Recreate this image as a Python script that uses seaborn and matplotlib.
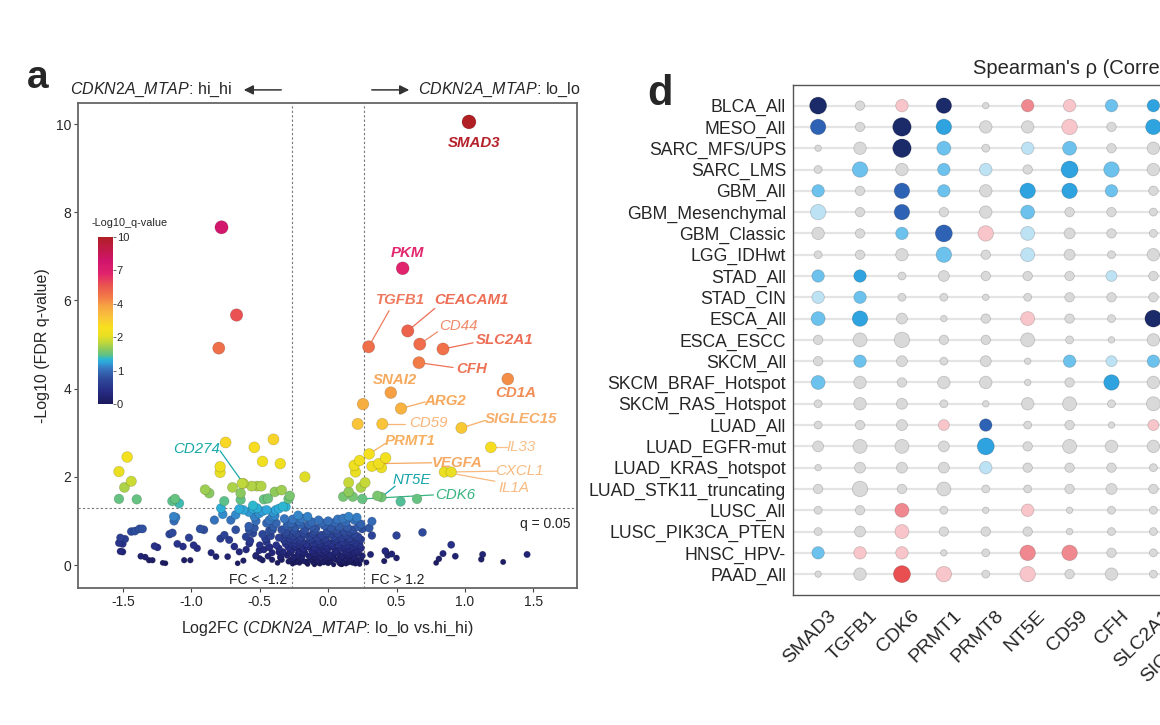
import numpy as np
import pandas as pd
import matplotlib
matplotlib.use("Agg")
import matplotlib.pyplot as plt
import matplotlib.colors as mcolors
import matplotlib.transforms as mtransforms
import seaborn as sns

sns.set_theme(style="white")
plt.rcParams['font.family'] = ['Liberation Sans', 'DejaVu Sans']
plt.rcParams['mathtext.fontset'] = 'custom'
plt.rcParams['mathtext.rm'] = 'Liberation Sans'
plt.rcParams['mathtext.it'] = 'Liberation Sans:italic'
plt.rcParams['mathtext.bf'] = 'Liberation Sans:bold'

# ---------------- DATA: panel a (volcano) ----------------
labeled_genes = ["SMAD3", "PKM", "TGFB1", "CEACAM1", "CD44", "SLC2A1", "CFH", "CD1A", "SNAI2",
                 "ARG2", "CD59", "SIGLEC15", "PRMT1", "IL33", "VEGFA", "CXCL1", "IL1A",
                 "NT5E", "CDK6", "CD274"]
labeled_fc = [1.03, 0.545, 0.296, 0.582, 0.67, 0.84, 0.664, 1.314, 0.458,
              0.533, 0.396, 0.975, 0.30, 1.19, 0.37, 0.90, 0.85,
              0.39, 0.25, -0.62]
labeled_q = [10.05, 6.73, 4.95, 5.31, 5.01, 4.90, 4.59, 4.22, 3.91,
             3.55, 3.20, 3.11, 2.52, 2.67, 2.30, 2.11, 2.11,
             1.54, 1.50, 1.85]

sig_fc = [-0.78, -0.67, -0.80, 0.255, 0.216,
          -1.53, -1.47, -1.49, -1.44, -1.53, -1.40, -1.14, -1.12, -1.09, -0.90, -0.87,
          -0.79, -0.79, -0.75, -0.70, -0.76, -0.63, -0.64, -0.64, -0.56, -0.52, -0.49,
          -0.54, -0.48, -0.40, -0.35, -0.47, -0.44, -0.39, -0.34, -0.28, -0.29, -0.55, -0.17,
          -0.33, -0.31,
          0.19, 0.20, 0.23, 0.32, 0.42, 0.39, 0.15, 0.24, 0.27, 0.15, 0.11, 0.18,
          0.36, 0.53, 0.65]
sig_q = [7.66, 5.67, 4.92, 3.65, 3.20,
         2.12, 2.45, 1.76, 1.90, 1.50, 1.49, 1.45, 1.50, 1.40, 1.71, 1.63,
         2.23, 2.10, 2.78, 1.76, 1.45, 1.85, 1.63, 1.48, 1.79, 1.79, 1.79,
         2.67, 2.35, 2.85, 2.30, 1.49, 1.51, 1.66, 1.70, 1.57, 1.50, 1.35, 2.00,
         1.33, 1.32,
         2.26, 2.11, 2.37, 2.24, 2.43, 2.21, 1.87, 1.76, 1.87, 1.66, 1.55, 1.55,
         1.57, 1.44, 1.50]

ns_left_fc = [-1.115, -1.127, -1.413, -1.358, -1.486, -1.503, -1.503, -1.338, -1.285, -1.19,
              -1.248, -1.139, -1.103, -1.062, -1.053, -1.008, -1.018, -0.984, -0.958, -0.936,
              -0.909, -0.832, -0.784, -0.771, -0.788, -0.759, -0.856, -0.82, -0.735, -0.662,
              -0.650, -0.686, -0.724, -0.676, -0.712, -0.676, -0.650, -0.577, -0.601, -0.577,
              -0.540, -0.528, -0.540, -0.504, -0.504, -0.528, -0.480, -0.431, -0.455, -0.407,
              -0.431, -0.407, -0.383, -0.359, -0.346, -0.322, -0.310, -0.286, -0.274, -0.237,
              -1.53, -1.52, -1.44, -1.38, -1.52, -1.37, -1.31, -1.27, -1.21, -1.16, -1.13,
              -0.62, -0.58, -0.55, -0.52, -0.48, -0.45, -0.40, -0.36]
ns_left_q = [1.08, 1.00, 0.77, 0.82, 0.59, 0.48, 0.30, 0.18, 0.11, 0.04,
             0.40, 0.73, 0.48, 0.42, 0.11, 0.11, 0.62, 0.45, 0.38, 0.82,
             0.80, 1.02, 1.29, 1.15, 0.60, 0.68, 0.28, 0.19, 0.19, 0.04,
             0.30, 0.42, 0.57, 0.80, 1.02, 1.14, 1.27, 0.49, 0.64, 0.80,
             0.84, 1.00, 1.10, 1.17, 0.33, 0.22, 0.11, 0.41, 0.60, 0.80,
             1.02, 1.10, 1.25, 0.29, 0.19, 0.56, 0.71, 0.94, 0.11, 0.41,
             0.50, 0.62, 0.76, 0.82, 0.31, 0.20, 0.11, 0.43, 0.05, 0.70, 1.10,
             1.25, 1.20, 1.28, 1.29, 1.22, 1.25, 1.20, 1.28]

ns_mid_fc = [-0.22, -0.19, -0.15, -0.07, 0.11, 0.15, 0.19, -0.26, -0.12, 0.05,
             -0.28, -0.24, -0.20, -0.12, -0.09, -0.03, 0.02, 0.08, 0.14, 0.22, 0.18, -0.17, 0.24, -0.005,
             -0.29, -0.26, -0.23, -0.20, -0.17, -0.14, -0.11, -0.08, -0.05, -0.02, 0.01, 0.04, 0.07,
             0.10, 0.13, 0.16, 0.19, 0.22, 0.12,
             -0.30, -0.27, -0.25, -0.22, -0.19, -0.16, -0.13, -0.10, -0.07, -0.04, -0.01, 0.02, 0.05,
             0.08, 0.11, 0.14, 0.17, 0.20, 0.23, 0.155,
             -0.29, -0.26, -0.24, -0.21, -0.18, -0.15, -0.12, -0.10, -0.07, -0.05, -0.02, 0.00, 0.03,
             0.06, 0.09, 0.12, 0.15, 0.18, 0.21, 0.24,
             -0.30, -0.28, -0.25, -0.22, -0.20, -0.17, -0.14, -0.12, -0.09, -0.06, -0.04, -0.01, 0.01,
             0.04, 0.07, 0.10, 0.13, 0.16, 0.19, 0.22, 0.25,
             -0.29, -0.26, -0.23, -0.21, -0.18, -0.15, -0.13, -0.11, -0.08, -0.06, -0.04, -0.02, 0.00,
             0.02, 0.04, 0.06, 0.08, 0.11, 0.13, 0.16, 0.18, 0.21, 0.23, -0.10, 0.10,
             -0.48, -0.45, -0.42, -0.40, -0.38, -0.36, -0.34, -0.33, -0.32, -0.47, -0.44, -0.41, -0.37,
             -0.35, -0.45, -0.39, -0.43, -0.31, -0.34, -0.50,
             -0.16, -0.03, 0.09, -0.25, 0.03, 0.17, -0.09, 0.14, -0.18, 0.06, -0.01, -0.21, 0.19, -0.06]
ns_mid_q = [1.13, 1.06, 1.10, 1.02, 1.06, 1.10, 1.02, 1.04, 0.98, 0.97,
            0.90, 0.86, 0.92, 0.87, 0.83, 0.90, 0.85, 0.88, 0.86, 0.87, 0.80, 0.80, 0.93, 0.78,
            0.70, 0.66, 0.72, 0.63, 0.70, 0.65, 0.72, 0.62, 0.68, 0.60, 0.70, 0.64, 0.72,
            0.62, 0.68, 0.60, 0.70, 0.64, 0.75,
            0.55, 0.50, 0.58, 0.47, 0.54, 0.48, 0.57, 0.50, 0.55, 0.46, 0.53, 0.49, 0.56,
            0.47, 0.52, 0.45, 0.55, 0.50, 0.46, 0.61,
            0.40, 0.35, 0.43, 0.32, 0.38, 0.42, 0.33, 0.40, 0.35, 0.43, 0.31, 0.38, 0.42,
            0.33, 0.39, 0.31, 0.37, 0.42, 0.33, 0.38,
            0.22, 0.28, 0.18, 0.25, 0.16, 0.27, 0.20, 0.15, 0.26, 0.19, 0.28, 0.17, 0.24,
            0.16, 0.27, 0.20, 0.15, 0.25, 0.18, 0.26, 0.21,
            0.08, 0.03, 0.11, 0.05, 0.09, 0.02, 0.12, 0.06, 0.10, 0.03, 0.08, 0.13, 0.04,
            0.09, 0.01, 0.12, 0.05, 0.09, 0.03, 0.10, 0.05, 0.12, 0.02, 0.01, 0.01,
            0.70, 0.52, 0.66, 0.88, 0.45, 0.62, 0.80, 0.30, 1.05, 0.35, 0.20, 0.12, 0.05,
            0.17, 0.95, 1.12, 0.40, 0.48, 0.12, 0.15,
            0.07, 0.06, 0.04, 0.14, 0.21, 0.08, 0.19, 0.22, 0.35, 0.28, 0.44, 0.53, 0.29, 0.47]

ns_core_fc = [-0.27, -0.21, -0.14, -0.05, 0.00, 0.07, 0.13, 0.21,
              -0.25, -0.18, -0.10, -0.01, 0.06, 0.16, 0.25,
              -0.28, -0.21, -0.12, -0.03, 0.06, 0.15, 0.24,
              -0.24, -0.15, -0.06, 0.03, 0.12, 0.21,
              -0.27, -0.19, -0.11, -0.03, 0.05, 0.14, 0.22,
              -0.26, -0.19, -0.10, -0.02, 0.08, 0.17, 0.24,
              -0.24, -0.16, -0.07, 0.01, 0.09, 0.15, 0.20,
              -0.60, -0.57, -0.55, -0.53, -0.50, -0.46, -0.43, -0.41, -0.38, -0.36, -0.33, -0.31,
              -0.30, -0.62, -0.58]
ns_core_q = [0.95, 0.99, 0.93, 0.96, 1.00, 1.04, 0.98, 1.08,
             0.78, 0.74, 0.77, 0.73, 0.80, 0.76, 0.82,
             0.60, 0.57, 0.61, 0.58, 0.60, 0.54, 0.58,
             0.50, 0.44, 0.50, 0.45, 0.42, 0.44,
             0.31, 0.29, 0.27, 0.36, 0.30, 0.28, 0.30,
             0.14, 0.20, 0.18, 0.21, 0.14, 0.13, 0.12,
             0.06, 0.07, 0.05, 0.07, 0.02, 0.06, 0.03,
             0.35, 0.55, 0.72, 0.20, 0.45, 0.60, 0.78, 0.28, 0.95, 0.38, 0.62, 0.75,
             0.90, 0.10, 0.88]

ns_right_fc = [0.32, 0.30, 0.32, 0.50, 0.69, 0.42, 0.435, 0.50, 0.41, 0.31, 0.90, 0.84,
               0.81, 0.79, 0.93, 1.13, 1.12, 1.28, 1.455, 0.465, 0.417, 0.28]
ns_right_q = [0.99, 0.84, 0.67, 0.67, 0.74, 0.31, 0.22, 0.16, 0.09, 0.24, 0.46, 0.26,
              0.14, 0.05, 0.20, 0.24, 0.13, 0.07, 0.24, 0.25, 0.32, 0.06]

# ---------------- DATA: panel d (dot matrix) ----------------
cohorts = ["BLCA_All", "MESO_All", "SARC_MFS/UPS", "SARC_LMS", "GBM_All", "GBM_Mesenchymal",
           "GBM_Classic", "LGG_IDHwt", "STAD_All", "STAD_CIN", "ESCA_All", "ESCA_ESCC",
           "SKCM_All", "SKCM_BRAF_Hotspot", "SKCM_RAS_Hotspot", "LUAD_All", "LUAD_EGFR-mut",
           "LUAD_KRAS_hotspot", "LUAD_STK11_truncating", "LUSC_All", "LUSC_PIK3CA_PTEN",
           "HNSC_HPV-", "PAAD_All"]
genes_d = ["SMAD3", "TGFB1", "CDK6", "PRMT1", "PRMT8", "NT5E", "CD59", "CFH", "SLC2A1", "SIGLEC15"]
rho = [
    [-0.5, 0, 0.1, -0.5, 0, 0.2, 0.1, -0.2, -0.3, 0],
    [-0.4, 0, -0.5, -0.3, 0, 0, 0.1, 0, -0.3, 0],
    [0, 0, -0.5, -0.2, 0, -0.1, -0.2, 0, 0, 0],
    [0, -0.2, 0, -0.2, -0.1, 0, -0.3, -0.2, 0, 0],
    [-0.2, 0, -0.4, -0.2, 0, -0.3, -0.3, -0.2, 0, 0],
    [-0.1, 0, -0.4, 0, 0, -0.2, 0, 0, 0, 0],
    [0, 0, -0.2, -0.4, 0.1, -0.1, 0, 0, 0, 0],
    [0, 0, 0, -0.2, 0, -0.1, 0, 0, 0, 0],
    [-0.2, -0.3, 0, 0, 0, 0, 0, -0.1, 0, 0],
    [-0.1, -0.2, 0, 0, 0, 0, 0, 0, 0, 0],
    [-0.2, -0.3, 0, 0, 0, 0.1, 0, 0, -0.5, 0],
    [0, 0, 0, 0, 0, 0, 0, 0, 0, 0],
    [0, -0.2, 0, 0, 0, 0, -0.2, -0.1, -0.2, 0],
    [-0.2, 0, 0, 0, 0, 0, 0, -0.3, 0, 0],
    [0, 0, 0, 0, 0, 0, 0, 0, 0, 0],
    [0, 0, 0, 0.1, -0.4, 0, 0, 0, 0.1, 0],
    [0, 0, 0, 0, -0.3, 0, 0, 0, 0, 0],
    [0, 0, 0, 0, -0.1, 0, 0, 0, 0, 0],
    [0, 0, 0, 0, 0, 0, 0, 0, 0, 0],
    [0, 0, 0.2, 0, 0, 0.1, 0, 0, 0, 0],
    [0, 0, 0.1, 0, 0, 0, 0, 0, 0, 0],
    [-0.2, 0.1, 0.1, 0, 0, 0.2, 0.2, 0, 0, 0],
    [0, 0, 0.3, 0.1, 0, 0.1, 0, 0, 0, 0],
]
signif = [
    [4.5, 2, 3, 4, 1, 3, 3, 3, 3, 2],
    [4, 2, 5, 4, 3, 3, 4, 2, 4, 2],
    [1, 3, 5, 3.5, 1.5, 3, 3.5, 2, 3, 2],
    [1.5, 4, 3, 3, 3, 2, 4.5, 4, 3, 2],
    [3, 2, 4, 3, 3, 4, 4, 3, 2, 2],
    [4, 2, 4, 2, 3, 3.5, 2, 2, 1.5, 2],
    [3, 2, 3, 4.5, 4, 3.5, 2.5, 2, 1.5, 2],
    [1.5, 2, 3, 4, 2, 3.5, 2.5, 1.5, 3, 2],
    [3, 3, 1.5, 2.5, 2, 2, 2, 2.5, 2, 2],
    [3, 3, 1.5, 1.5, 1, 1.5, 2, 2, 2, 2],
    [3.5, 4, 2.5, 1, 2, 3.5, 2, 1.5, 4.5, 2],
    [2, 3.5, 4, 2, 2, 3.5, 1.5, 1, 3, 2],
    [2, 3, 2.5, 1.5, 2.5, 1, 3, 2.5, 3, 2],
    [3.5, 3, 2, 3, 3, 1, 2, 4, 3, 2],
    [1.5, 3, 2.5, 1.5, 1, 3, 3.5, 1.5, 3.5, 2],
    [1.5, 2, 2.5, 2.5, 3, 1.5, 2, 1, 2.5, 2],
    [2.5, 3.5, 3.5, 2.5, 4.5, 2, 3.5, 3, 3, 2],
    [1, 2.5, 2.5, 2.5, 3, 2, 2, 2, 1.5, 2],
    [2, 4, 2, 3.5, 1.5, 1.5, 2, 2.5, 2, 2],
    [1.5, 2, 3.5, 1.5, 1, 3, 1, 1.5, 1.5, 2],
    [1.5, 2.5, 3.5, 2, 2, 2, 1, 1.5, 1.5, 2],
    [3, 3, 3, 1, 1.5, 4, 4, 2, 1.5, 2],
    [1, 3, 4.5, 4, 1.5, 4, 2, 3, 1.5, 2],
]

# ---------------- STYLE ----------------
q_ticks = [0, 1, 2, 4, 7, 10]
def _fwd(v):
    return np.interp(np.asarray(v, dtype=float), q_ticks, np.linspace(0, 1, len(q_ticks)))
def _inv(u):
    return np.interp(np.asarray(u, dtype=float), np.linspace(0, 1, len(q_ticks)), q_ticks)
qnorm = mcolors.FuncNorm((_fwd, _inv), vmin=0, vmax=10)
qcmap = mcolors.LinearSegmentedColormap.from_list("qv", [
    (0.00, "#1c1a5e"), (0.08, "#272d85"), (0.16, "#30509f"), (0.21, "#3776bf"),
    (0.25, "#2fa6dc"), (0.27, "#2cb8d0"), (0.29, "#5cc08a"), (0.33, "#8fca5a"),
    (0.37, "#c2d83a"), (0.41, "#eadf22"), (0.46, "#f7e01e"), (0.52, "#f9c43a"),
    (0.59, "#f6a243"), (0.64, "#f27b48"), (0.71, "#e9554f"), (0.78, "#e1246c"),
    (0.86, "#d0146c"), (1.00, "#b01f24")])

rho_palette = {-0.5: "#1b2a68", -0.4: "#2e62b4", -0.3: "#2ea3df", -0.2: "#6cc2ec",
               -0.1: "#bde2f4", 0: "#d9d9d9", 0.1: "#f8c6ca", 0.2: "#f0898f", 0.3: "#e94e50"}

label_style = {
    "SMAD3": (1.07, 9.57, None, "#b5202a", True),
    "PKM": (0.58, 7.07, None, "#e2266e", True),
    "TGFB1": (0.526, 6.01, (0.446, 5.77), "#ef7a5f", True),
    "CEACAM1": (1.047, 6.01, (0.78, 5.82), "#ee6d55", True),
    "CD44": (0.95, 5.42, (0.80, 5.29), "#f08b6b", False),
    "SLC2A1": (1.29, 5.10, (1.06, 5.04), "#ee6d55", True),
    "CFH": (1.05, 4.44, (0.914, 4.48), "#ef7457", True),
    "CD1A": (1.375, 3.91, None, "#f18c55", True),
    "SNAI2": (0.49, 4.20, None, "#f6a95c", True),
    "ARG2": (0.853, 3.72, (0.71, 3.70), "#f6a95c", True),
    "CD59": (0.733, 3.22, (0.56, 3.20), "#f8b57a", False),
    "SIGLEC15": (1.414, 3.32, (1.15, 3.28), "#f6ae6a", True),
    "PRMT1": (0.598, 2.82, (0.42, 2.76), "#f7b060", True),
    "IL33": (1.41, 2.67, (1.31, 2.67), "#f9c08a", False),
    "VEGFA": (0.94, 2.32, (0.757, 2.32), "#f6a962", True),
    "CXCL1": (1.40, 2.13, (1.24, 2.13), "#f8b97e", False),
    "IL1A": (1.36, 1.75, (1.22, 1.90), "#f8b97e", False),
    "NT5E": (0.61, 1.93, (0.49, 1.79), "#17a5ab", False),
    "CDK6": (0.93, 1.59, (0.77, 1.59), "#37b47f", False),
    "CD274": (-0.964, 2.63, (-0.79, 2.59), "#1aa9a8", False),
}

# ---------------- FIGURE ----------------
fig = plt.figure(figsize=(11.6, 7.25), dpi=100)

# ===== panel a =====
ax = fig.add_axes([0.0672, 0.189, 0.4302, 0.669])
vfc = labeled_fc + sig_fc + ns_left_fc + ns_mid_fc + ns_core_fc + ns_right_fc
vq = labeled_q + sig_q + ns_left_q + ns_mid_q + ns_core_q + ns_right_q
vol = pd.DataFrame({"fc": vfc, "q": vq})
vol["area"] = ((4.5 + 9.5 * np.sqrt(_fwd(vol["q"]))) * 0.72) ** 2
vol = vol.sort_values("q").reset_index(drop=True)

thr_fc = np.log2(1.2)
thr_q = -np.log10(0.05)
ax.axvline(-thr_fc, color="#777777", lw=0.8, ls=(0, (2, 2)), zorder=1)
ax.axvline(thr_fc, color="#777777", lw=0.8, ls=(0, (2, 2)), zorder=1)
ax.axhline(thr_q, color="#777777", lw=0.8, ls=(0, (2, 2)), zorder=1)

sns.scatterplot(data=vol, x="fc", y="q", hue="q", palette=qcmap, hue_norm=qnorm,
                size="area", sizes=(0, 200), size_norm=(0, 200), legend=False,
                edgecolor=(0, 0, 0, 0.18), linewidth=0.5, ax=ax, zorder=3)

ax.set_xlim(-1.83, 1.82)
ax.set_ylim(-0.52, 10.48)
ax.set_xticks([-1.5, -1.0, -0.5, 0.0, 0.5, 1.0, 1.5])
ax.set_xticklabels(["-1.5", "-1.0", "-0.5", "0.0", "0.5", "1.0", "1.5"])
ax.set_yticks([0, 2, 4, 6, 8, 10])
ax.tick_params(axis="both", direction="out", length=3, width=0.8, color="#444444",
               labelsize=10, pad=2, bottom=True, left=True)
for s in ax.spines.values():
    s.set_color("#666666")
    s.set_linewidth(1.3)
ax.set_xlabel(r"Log2FC ($\it{CDKN2A\_MTAP}$: lo_lo vs.hi_hi)", fontsize=11.5, labelpad=8)
ax.set_ylabel("-Log10 (FDR q-value)", fontsize=11.5, labelpad=4)

gene_pos = dict(zip(labeled_genes, zip(labeled_fc, labeled_q)))
for g, (tx, ty, lead, col, bold) in label_style.items():
    px, py = gene_pos[g]
    if lead is not None:
        ax.plot([px, lead[0]], [py, lead[1]], color=col, lw=0.9, zorder=2)
    ax.text(tx, ty, g, color=col, fontsize=10.8, style="italic",
            fontweight="bold" if bold else "normal", ha="center", va="center", zorder=4)
ax.text(0.155, 0.61, "MIF", color="#5b6fc0", alpha=0.6, fontsize=9, ha="center",
        va="center", zorder=2.5)
ax.text(1.77, 0.94, "q = 0.05", fontsize=10, ha="right", va="center", color="#222222")
ax.text(-0.30, -0.33, "FC < -1.2", fontsize=10, ha="right", va="center", color="#222222")
ax.text(0.31, -0.33, "FC > 1.2", fontsize=10, ha="left", va="center", color="#222222")

# header with arrows
fig.text(0.0603, 0.876, r"$\it{CDKN2A\_MTAP}$: hi_hi", fontsize=11.5, va="center")
fig.text(0.3603, 0.876, r"$\it{CDKN2A\_MTAP}$: lo_lo", fontsize=11.5, va="center")
fig.add_artist(matplotlib.patches.FancyArrowPatch((284 / 1160, 0.876), (241 / 1160, 0.876),
               transform=fig.transFigure, arrowstyle="-|>", mutation_scale=14,
               color="#333333", lw=1.1))
fig.add_artist(matplotlib.patches.FancyArrowPatch((369 / 1160, 0.876), (412 / 1160, 0.876),
               transform=fig.transFigure, arrowstyle="-|>", mutation_scale=14,
               color="#333333", lw=1.1))
fig.text(0.023, 0.893, "a", fontsize=28, fontweight="bold", va="center")

# colour bar
cax = fig.add_axes([0.0845, 0.4428, 0.0125, 0.2303])
sm = plt.cm.ScalarMappable(norm=qnorm, cmap=qcmap)
cb = fig.colorbar(sm, cax=cax, ticks=q_ticks)
cb.set_ticklabels([str(t) for t in q_ticks])
cb.outline.set_visible(False)
cb.ax.tick_params(labelsize=8, length=2, width=0.6, pad=1, color="#555555")
fig.text(0.0793, 0.692, "-Log10_q-value", fontsize=7.8, va="center")

# ===== panel d =====
axd = fig.add_axes([0.6836, 0.1793, 0.3649, 0.7035])
rows = []
for i, c in enumerate(cohorts):
    for j, g in enumerate(genes_d):
        rows.append({"row": i, "col": j, "rho": rho[i][j], "sig": signif[i][j]})
dd = pd.DataFrame(rows)
dd["area"] = ((3.5 + 3.0 * dd["sig"]) * 0.72) ** 2

axd.hlines(range(len(cohorts)), -0.6, len(genes_d) - 0.4, color="#e4e4e4", lw=1.6, zorder=0)
sns.scatterplot(data=dd, x="col", y="row", hue="rho", palette=rho_palette,
                size="area", sizes=(0, 400), size_norm=(0, 400), legend=False,
                edgecolor=(0, 0, 0, 0.17), linewidth=0.6, ax=axd, zorder=3)
axd.set_xlim(-0.6, len(genes_d) - 0.5)
axd.set_ylim(len(cohorts) - 0.02, -0.97)
axd.set_yticks(range(len(cohorts)))
axd.set_yticklabels(cohorts, fontsize=12.7)
axd.set_xticks(range(len(genes_d)))
axd.set_xticklabels(genes_d, fontsize=14, rotation=45, ha="right", rotation_mode="anchor")
axd.tick_params(axis="y", length=0, pad=5)
axd.tick_params(axis="x", length=0, pad=9)
offset = mtransforms.ScaledTranslation(9 / 100, 0, fig.dpi_scale_trans)
for lab in axd.get_xticklabels():
    lab.set_transform(lab.get_transform() + offset)
axd.set_xlabel("")
axd.set_ylabel("")
for side in ["left", "bottom", "top"]:
    axd.spines[side].set_color("#555555")
    axd.spines[side].set_linewidth(1.0)
axd.spines["right"].set_visible(False)
fig.text(0.8388, 0.906, "Spearman's ρ (Correlation)", fontsize=14.5, va="center")
fig.text(0.558, 0.871, "d", fontsize=30, fontweight="bold", va="center")

fig.savefig("out.png", dpi=100)
